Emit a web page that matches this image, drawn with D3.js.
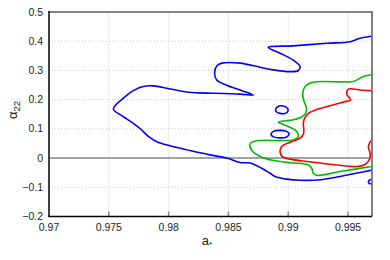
<!DOCTYPE html>
<html>
<head>
<meta charset="utf-8">
<style>
    body { margin: 0; background: white; }
    text { font-family: "Liberation Sans", Arial, sans-serif; fill: #222; }
    .grid line { stroke: #c8c8c8; stroke-width: 1; stroke-dasharray: 1,2; }
    .contour { fill: none; stroke-width: 1.6; stroke-linejoin: round; }
</style>
</head>
<body>
<script src="https://cdn.jsdelivr.net/npm/d3@7"></script>
<script>
    // axis ticks
    var xTicks = [0.97, 0.975, 0.98, 0.985, 0.99, 0.995];
    var yTicks = [-0.2, -0.1, 0, 0.1, 0.2, 0.3, 0.4, 0.5];

    // contour lines as [a*, alpha22] pairs
    var blueMain = [
        [0.9970, 0.418], [0.99600, 0.410], [0.99517, 0.398], [0.99324, 0.393], [0.99040, 0.384],
        [0.98831, 0.379], [0.98931, 0.359], [0.99040, 0.336], [0.99099, 0.313], [0.99082, 0.299],
        [0.99015, 0.296], [0.98873, 0.302], [0.98764, 0.311], [0.98597, 0.325], [0.98446, 0.325],
        [0.98402, 0.315], [0.98384, 0.291], [0.98402, 0.267], [0.98480, 0.250], [0.98597, 0.233],
        [0.98708, 0.216], [0.98597, 0.219], [0.98371, 0.222], [0.98263, 0.223], [0.98151, 0.226],
        [0.98068, 0.232], [0.97984, 0.239], [0.97872, 0.247], [0.97788, 0.245], [0.97705, 0.231],
        [0.97621, 0.205], [0.97538, 0.168], [0.97621, 0.142], [0.97705, 0.119], [0.97775, 0.096],
        [0.97830, 0.074], [0.97901, 0.056], [0.98012, 0.042], [0.98179, 0.026], [0.98346, 0.011],
        [0.98486, 0.000], [0.98597, -0.015], [0.98681, -0.017], [0.98778, -0.035], [0.98848, -0.052],
        [0.98890, -0.063], [0.98987, -0.072], [0.99099, -0.076], [0.99249, -0.075], [0.99433, -0.063],
        [0.99567, -0.052], [0.99701, -0.041]
    ];
    var blueEdge = [[0.99701, -0.073], [0.99676, -0.076], [0.99670, -0.081], [0.99676, -0.087], [0.99701, -0.088]];
    var blueLoop1 = [
        [0.98894, 0.1666], [0.98915, 0.1768], [0.98956, 0.1785], [0.98994, 0.1700],
        [0.98998, 0.1614], [0.98973, 0.1529], [0.98931, 0.1529], [0.98898, 0.1597]
    ];
    var blueLoop2 = [
        [0.98856, 0.0811], [0.98881, 0.0923], [0.98931, 0.0947], [0.98986, 0.0913],
        [0.99007, 0.0828], [0.98982, 0.0715], [0.98931, 0.0691], [0.98877, 0.0725]
    ];
    var green = [
        [0.99698, 0.285], [0.99628, 0.279], [0.99544, 0.262], [0.99461, 0.261], [0.99238, 0.261],
        [0.99174, 0.255], [0.99136, 0.242], [0.99121, 0.222], [0.99130, 0.196], [0.99151, 0.173],
        [0.99145, 0.153], [0.99099, 0.138], [0.99015, 0.129], [0.98917, 0.123], [0.99001, 0.108],
        [0.99071, 0.091], [0.99084, 0.074], [0.99043, 0.062], [0.98931, 0.060], [0.98737, 0.059],
        [0.98681, 0.049], [0.98695, 0.026], [0.98750, 0.009], [0.98820, -0.003], [0.98973, -0.014],
        [0.99166, -0.023], [0.99196, -0.035], [0.99210, -0.052], [0.99237, -0.059], [0.99433, -0.046],
        [0.99698, -0.029]
    ];
    var red = [
        [0.99698, 0.231], [0.99600, 0.233], [0.99502, 0.236], [0.99490, 0.218], [0.99521, 0.199],
        [0.99461, 0.192], [0.99349, 0.179], [0.99238, 0.166], [0.99174, 0.155], [0.99136, 0.136],
        [0.99126, 0.117], [0.99130, 0.098], [0.99126, 0.081], [0.99099, 0.068], [0.99015, 0.054],
        [0.98946, 0.040], [0.98931, 0.022], [0.98948, 0.006], [0.98987, -0.001], [0.99155, -0.012],
        [0.99391, -0.023], [0.99573, -0.029], [0.99642, -0.022], [0.99680, -0.003], [0.99684, 0.017],
        [0.99670, 0.037], [0.99680, 0.052], [0.99698, 0.062]
    ];

    var width = 390, height = 260;
    var margin = {left: 49, right: 18, top: 12, bottom: 43.5};

    var svg = d3.select("body").append("svg")
            .attr("width", width)
            .attr("height", height);

    var x = d3.scaleLinear().domain([0.97, 0.997]).range([margin.left, width - margin.right]);
    var y = d3.scaleLinear().domain([-0.2, 0.5]).range([height - margin.bottom, margin.top]);

    svg.append("defs").append("clipPath").attr("id", "plot")
            .append("rect")
            .attr("x", x(0.97)).attr("y", y(0.5))
            .attr("width", x(0.997) - x(0.97))
            .attr("height", y(-0.2) - y(0.5));

    // grid
    var grid = svg.append("g").classed("grid", 1);
    grid.selectAll(".gx").data(xTicks.slice(1)).enter().append("line")
            .attr("x1", function(d) { return x(d); })
            .attr("x2", function(d) { return x(d); })
            .attr("y1", y(-0.2)).attr("y2", y(0.5));
    grid.selectAll(".gy").data(yTicks.slice(1, -1)).enter().append("line")
            .attr("x1", x(0.97)).attr("x2", x(0.997))
            .attr("y1", function(d) { return y(d); })
            .attr("y2", function(d) { return y(d); });

    // zero line
    svg.append("line")
            .attr("x1", x(0.97)).attr("x2", x(0.997))
            .attr("y1", y(0)).attr("y2", y(0))
            .attr("stroke", "#888").attr("stroke-width", 1.5);

    var line = d3.line()
            .x(function(d) { return x(d[0]); })
            .y(function(d) { return y(d[1]); })
            .curve(d3.curveCatmullRom.alpha(0.5));
    var loop = d3.line()
            .x(function(d) { return x(d[0]); })
            .y(function(d) { return y(d[1]); })
            .curve(d3.curveCatmullRomClosed.alpha(0.5));

    var plot = svg.append("g").attr("clip-path", "url(#plot)");
    [[blueMain, "#0000ff", line], [blueEdge, "#0000ff", line], [blueLoop1, "#0000ff", loop],
     [blueLoop2, "#0000ff", loop], [green, "#00bb00", line], [red, "#ff0000", line]]
        .forEach(function(c) {
            plot.append("path").classed("contour", 1)
                    .attr("d", c[2](c[0]))
                    .attr("stroke", c[1]);
        });

    // bottom ticks (inside, grey)
    svg.selectAll(".tick-x").data(xTicks.slice(1)).enter().append("line")
            .attr("x1", function(d) { return x(d); })
            .attr("x2", function(d) { return x(d); })
            .attr("y1", y(-0.2)).attr("y2", y(-0.2) - 5)
            .attr("stroke", "#888").attr("stroke-width", 1.5);

    // frame: grey top/right, black left/bottom
    svg.append("line").attr("x1", x(0.97)).attr("x2", x(0.997) + 1)
            .attr("y1", y(0.5)).attr("y2", y(0.5))
            .attr("stroke", "#808080").attr("stroke-width", 2);
    svg.append("line").attr("x1", x(0.997)).attr("x2", x(0.997))
            .attr("y1", y(0.5)).attr("y2", y(-0.2))
            .attr("stroke", "#808080").attr("stroke-width", 2);
    svg.append("line").attr("x1", x(0.97)).attr("x2", x(0.97))
            .attr("y1", y(0.5) - 1).attr("y2", y(-0.2))
            .attr("stroke", "black").attr("stroke-width", 1.5);
    svg.append("line").attr("x1", x(0.97) - 0.75).attr("x2", x(0.997))
            .attr("y1", y(-0.2)).attr("y2", y(-0.2))
            .attr("stroke", "black").attr("stroke-width", 1.5);

    // tick labels
    svg.selectAll(".lx").data(xTicks).enter().append("text")
            .attr("x", function(d) { return x(d); })
            .attr("y", y(-0.2) + 14.5)
            .attr("text-anchor", "middle")
            .style("font-size", "10.5px")
            .text(function(d) { return d3.format("")(d); });
    svg.selectAll(".ly").data(yTicks).enter().append("text")
            .attr("x", x(0.97) - 6)
            .attr("y", function(d) { return y(d) + 3.5; })
            .attr("text-anchor", "end")
            .style("font-size", "10.5px")
            .text(function(d) { return d3.format("")(d); });

    // axis titles
    var xt = svg.append("text")
            .attr("x", 207).attr("y", 245)
            .attr("text-anchor", "middle")
            .style("font-size", "13px")
            .text("a");
    xt.append("tspan").attr("dy", 2).style("font-size", "8px").text("*");

    var yt = svg.append("text")
            .attr("transform", "translate(17,110) rotate(-90)")
            .attr("text-anchor", "middle")
            .style("font-size", "13px")
            .text("\u03b1");
    yt.append("tspan").attr("dy", 3).style("font-size", "9.5px").text("22");
</script>
</body>
</html>
